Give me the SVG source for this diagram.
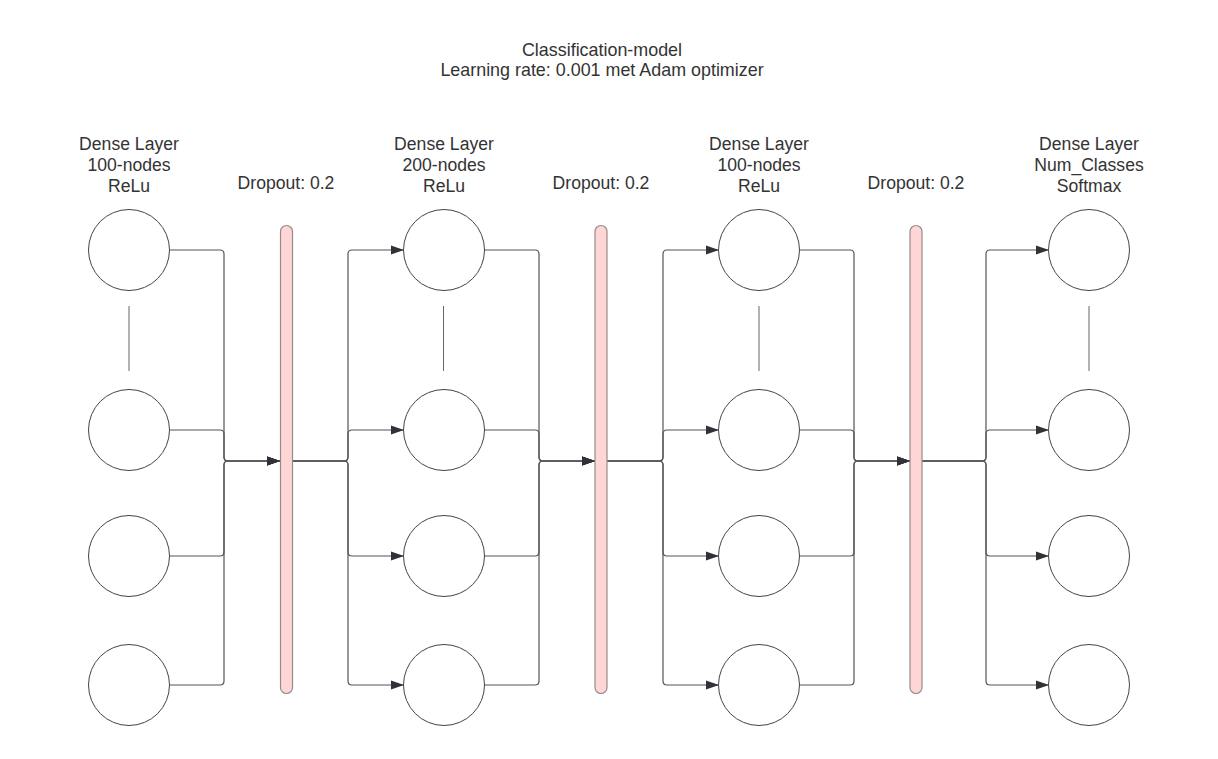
<svg xmlns="http://www.w3.org/2000/svg" width="1218" height="759" viewBox="0 0 1218 759">
<style>
text{font-family:"Liberation Sans",Arial,sans-serif;font-size:17.6px;fill:#333;text-anchor:middle}
.title{font-size:17.9px}
.node{fill:#fff;stroke:#444;stroke-width:1}
.tick{stroke:#666;stroke-width:1}
.bar{fill:#ffd6d6;stroke:#9a8a8a;stroke-width:1.2}
.c{fill:none;stroke:#555;stroke-width:1.2}
.a{marker-end:url(#arr)}
</style>
<defs>
<marker id="arr" markerUnits="userSpaceOnUse" markerWidth="14" markerHeight="10" viewBox="0 0 14 10" refX="13" refY="5" orient="auto">
<path d="M0,0.5 L13,5 L0,9.5 Z" fill="#2f3239"/>
</marker>
</defs>
<rect width="1218" height="759" fill="#fff"/>
<g id="title">
<text class="title" x="602" y="56">Classification-model</text>
<text class="title" x="602" y="76">Learning rate: 0.001 met Adam optimizer</text>
</g>
<g id="connectors">
<path class="c a" d="M169,250 H220 Q224,250 224,254 V457 Q224,461 228,461 H280"/>
<path class="c a" d="M169,430 H220 Q224,430 224,434 V457 Q224,461 228,461 H280"/>
<path class="c a" d="M169,556 H220 Q224,556 224,552 V465 Q224,461 228,461 H280"/>
<path class="c a" d="M169,685 H220 Q224,685 224,681 V465 Q224,461 228,461 H280"/>
<path class="c a" d="M292,461 H344 Q348,461 348,457 V254 Q348,250 352,250 H404"/>
<path class="c a" d="M292,461 H344 Q348,461 348,457 V434 Q348,430 352,430 H404"/>
<path class="c a" d="M292,461 H344 Q348,461 348,465 V552 Q348,556 352,556 H404"/>
<path class="c a" d="M292,461 H344 Q348,461 348,465 V681 Q348,685 352,685 H404"/>
<path class="c a" d="M484,250 H535 Q539,250 539,254 V457 Q539,461 543,461 H595"/>
<path class="c a" d="M484,430 H535 Q539,430 539,434 V457 Q539,461 543,461 H595"/>
<path class="c a" d="M484,556 H535 Q539,556 539,552 V465 Q539,461 543,461 H595"/>
<path class="c a" d="M484,685 H535 Q539,685 539,681 V465 Q539,461 543,461 H595"/>
<path class="c a" d="M607,461 H659 Q663,461 663,457 V254 Q663,250 667,250 H719"/>
<path class="c a" d="M607,461 H659 Q663,461 663,457 V434 Q663,430 667,430 H719"/>
<path class="c a" d="M607,461 H659 Q663,461 663,465 V552 Q663,556 667,556 H719"/>
<path class="c a" d="M607,461 H659 Q663,461 663,465 V681 Q663,685 667,685 H719"/>
<path class="c a" d="M799,250 H850 Q854,250 854,254 V457 Q854,461 858,461 H910"/>
<path class="c a" d="M799,430 H850 Q854,430 854,434 V457 Q854,461 858,461 H910"/>
<path class="c a" d="M799,556 H850 Q854,556 854,552 V465 Q854,461 858,461 H910"/>
<path class="c a" d="M799,685 H850 Q854,685 854,681 V465 Q854,461 858,461 H910"/>
<path class="c a" d="M922,461 H982 Q986,461 986,457 V254 Q986,250 990,250 H1049"/>
<path class="c a" d="M922,461 H982 Q986,461 986,457 V434 Q986,430 990,430 H1049"/>
<path class="c a" d="M922,461 H982 Q986,461 986,465 V552 Q986,556 990,556 H1049"/>
<path class="c a" d="M922,461 H982 Q986,461 986,465 V681 Q986,685 990,685 H1049"/>
</g>
<g id="layer1">
<text x="129" y="150">Dense Layer</text>
<text x="129" y="171">100-nodes</text>
<text x="129" y="192">ReLu</text>
<circle class="node" cx="129" cy="250" r="40.5"/>
<line class="tick" x1="129" y1="306" x2="129" y2="371"/>
<circle class="node" cx="129" cy="430" r="40.5"/>
<circle class="node" cx="129" cy="556" r="40.5"/>
<circle class="node" cx="129" cy="685" r="40.5"/>
</g>
<g id="dropout1">
<text x="286" y="189">Dropout: 0.2</text>
<rect class="bar" x="280.5" y="225.5" width="12" height="468" rx="6"/>
</g>
<g id="layer2">
<text x="444" y="150">Dense Layer</text>
<text x="444" y="171">200-nodes</text>
<text x="444" y="192">ReLu</text>
<circle class="node" cx="444" cy="250" r="40.5"/>
<line class="tick" x1="443.5" y1="306" x2="443.5" y2="371"/>
<circle class="node" cx="444" cy="430" r="40.5"/>
<circle class="node" cx="444" cy="556" r="40.5"/>
<circle class="node" cx="444" cy="685" r="40.5"/>
</g>
<g id="dropout2">
<text x="601" y="189">Dropout: 0.2</text>
<rect class="bar" x="595" y="225.5" width="12" height="468" rx="6"/>
</g>
<g id="layer3">
<text x="759" y="150">Dense Layer</text>
<text x="759" y="171">100-nodes</text>
<text x="759" y="192">ReLu</text>
<circle class="node" cx="759" cy="250" r="40.5"/>
<line class="tick" x1="759" y1="306" x2="759" y2="371"/>
<circle class="node" cx="759" cy="430" r="40.5"/>
<circle class="node" cx="759" cy="556" r="40.5"/>
<circle class="node" cx="759" cy="685" r="40.5"/>
</g>
<g id="dropout3">
<text x="916" y="189">Dropout: 0.2</text>
<rect class="bar" x="910" y="225.5" width="12" height="468" rx="6"/>
</g>
<g id="layer4">
<text x="1089" y="150">Dense Layer</text>
<text x="1089" y="171">Num_Classes</text>
<text x="1089" y="192">Softmax</text>
<circle class="node" cx="1089" cy="250" r="40.5"/>
<line class="tick" x1="1089" y1="306" x2="1089" y2="371"/>
<circle class="node" cx="1089" cy="430" r="40.5"/>
<circle class="node" cx="1089" cy="556" r="40.5"/>
<circle class="node" cx="1089" cy="685" r="40.5"/>
</g>
</svg>
